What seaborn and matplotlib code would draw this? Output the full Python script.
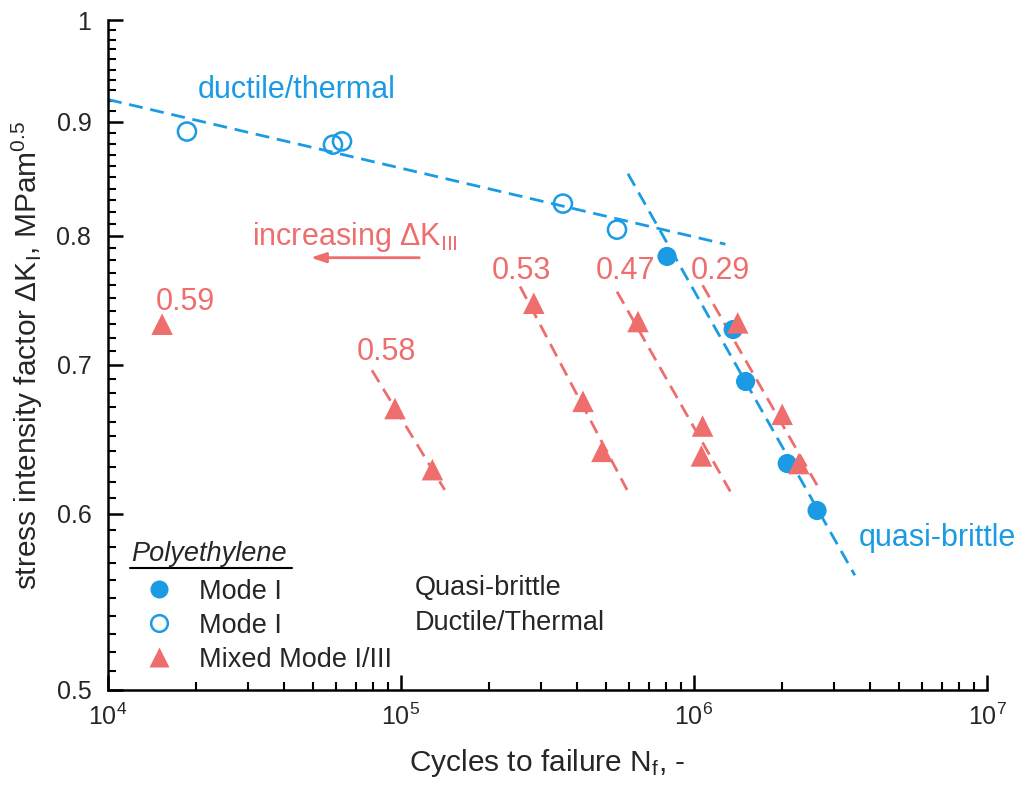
import numpy as np
import pandas as pd
import matplotlib
matplotlib.use("Agg")
import matplotlib.pyplot as plt
import seaborn as sns
from matplotlib.lines import Line2D
from matplotlib.ticker import LogLocator, FixedLocator, MultipleLocator, NullFormatter, FixedFormatter

# ---------------- data ----------------
ductile_N = [1.86e4, 5.86e4, 6.29e4, 3.57e5, 5.46e5]
ductile_K = [0.891, 0.879, 0.882, 0.827, 0.805]

brittle_N = [8.09e5, 1.36e6, 1.50e6, 2.08e6, 2.63e6]
brittle_K = [0.783, 0.726, 0.688, 0.632, 0.602]

mixed_ratio = ["0.59", "0.58", "0.58", "0.53", "0.53", "0.53", "0.47", "0.47", "0.47", "0.29", "0.29", "0.29"]
mixed_N = [1.53e4, 9.54e4, 1.28e5, 2.84e5, 4.18e5, 4.85e5, 6.44e5, 1.07e6, 1.06e6, 1.41e6, 2.00e6, 2.28e6]
mixed_K = [0.730, 0.669, 0.628, 0.746, 0.674, 0.640, 0.732, 0.657, 0.637, 0.731, 0.665, 0.632]

# trend lines (start, end)
fit_ductile_N = [1.0e4, 1.28e6]
fit_ductile_K = [0.921, 0.793]
fit_brittle_N = [5.95e5, 3.54e6]
fit_brittle_K = [0.853, 0.563]
fit_mixed = {
    "0.58": ([7.96e4, 1.41e5], [0.696, 0.615]),
    "0.53": ([2.55e5, 5.91e5], [0.759, 0.615]),
    "0.47": ([5.46e5, 1.33e6], [0.755, 0.614]),
    "0.29": ([1.07e6, 2.63e6], [0.760, 0.618]),
}

y_ticks = [0.5, 0.6, 0.7, 0.8, 0.9, 1.0]
y_ticklabels = ["0.5", "0.6", "0.7", "0.8", "0.9", "1"]

BLUE = "#1A9BE3"
RED = "#EE6E6E"

# ---------------- style ----------------
sns.set_style("ticks")
plt.rcParams["font.family"] = ["Liberation Sans", "DejaVu Sans"]
plt.rcParams["mathtext.fontset"] = "custom"
plt.rcParams["mathtext.rm"] = "Liberation Sans"
plt.rcParams["mathtext.it"] = "Liberation Sans:italic"
plt.rcParams["mathtext.default"] = "regular"

fig = plt.figure(figsize=(10.21, 7.85), dpi=100)
ax = fig.add_axes([108 / 1021, 1 - 690 / 785, (987 - 108) / 1021, (690 - 20) / 785])
ax.set_xscale("log")
ax.set_yscale("log")

dash = (5, 2.8)
# trend lines
sns.lineplot(x=fit_ductile_N, y=fit_ductile_K, ax=ax, color=BLUE, lw=2, linestyle=(0, dash))
sns.lineplot(x=fit_brittle_N, y=fit_brittle_K, ax=ax, color=BLUE, lw=2, linestyle=(0, dash))
for k, (xs, ys) in fit_mixed.items():
    sns.lineplot(x=xs, y=ys, ax=ax, color=RED, lw=2, linestyle=(0, dash))

# points
sns.scatterplot(x=brittle_N, y=brittle_K, ax=ax, color=BLUE, s=190, marker="o", edgecolor="none", zorder=3)
ax.scatter(ductile_N, ductile_K, s=170, facecolors="none", edgecolors=BLUE, linewidths=1.8, zorder=3)
sns.scatterplot(x=mixed_N, y=mixed_K, ax=ax, color=RED, s=240, marker="^", edgecolor="none", zorder=4)

ax.set_xlim(1e4, 1e7)
ax.set_ylim(0.5, 1.0)

# ticks
ax.xaxis.set_major_locator(LogLocator(base=10, numticks=10))
ax.xaxis.set_minor_locator(LogLocator(base=10, subs=np.arange(2, 10), numticks=20))
ax.xaxis.set_minor_formatter(NullFormatter())
ax.yaxis.set_major_locator(FixedLocator(y_ticks))
ax.yaxis.set_major_formatter(FixedFormatter(y_ticklabels))
ax.yaxis.set_minor_locator(MultipleLocator(0.01))
ax.yaxis.set_minor_formatter(NullFormatter())
ax.tick_params(which="major", direction="in", length=11, width=1.8, labelsize=18, color="black", pad=10)
ax.tick_params(which="minor", direction="in", length=6, width=1.5, color="black")
ax.tick_params(axis="y", pad=12)
for s in ["top", "right"]:
    ax.spines[s].set_visible(False)
for s in ["left", "bottom"]:
    ax.spines[s].set_linewidth(1.8)
    ax.spines[s].set_color("black")

ax.set_xlabel("Cycles to failure N$_\\mathrm{f}$, -", fontsize=21.5, labelpad=12)
ax.set_ylabel("stress intensity factor ΔK$_\\mathrm{I}$, MPam$^{0.5}$", fontsize=21.5, labelpad=8)

# annotations
fs = 22
ax.text(4.42e4, 0.930, "ductile/thermal", color=BLUE, fontsize=fs, ha="center", va="center")
ax.text(6.75e6, 0.585, "quasi-brittle", color=BLUE, fontsize=fs, ha="center", va="center")
ax.text(1.83e4, 0.747, "0.59", color=RED, fontsize=fs, ha="center", va="center")
ax.text(8.89e4, 0.709, "0.58", color=RED, fontsize=fs, ha="center", va="center")
ax.text(2.57e5, 0.771, "0.53", color=RED, fontsize=fs, ha="center", va="center")
ax.text(5.82e5, 0.771, "0.47", color=RED, fontsize=fs, ha="center", va="center")
ax.text(1.23e6, 0.771, "0.29", color=RED, fontsize=fs, ha="center", va="center")
ax.text(6.97e4, 0.799, "increasing ΔK$_\\mathrm{III}$", color=RED, fontsize=fs, ha="center", va="center")
ax.annotate("", xy=(4.81e4, 0.782), xytext=(1.18e5, 0.782),
            arrowprops=dict(arrowstyle="-|>,head_length=0.9,head_width=0.3", color=RED, lw=2))

# legend
handles = [
    Line2D([], [], marker="o", ls="none", color=BLUE, markersize=13, markeredgecolor="none"),
    Line2D([], [], marker="o", ls="none", markerfacecolor="none", markeredgecolor=BLUE, markeredgewidth=1.8, markersize=12),
    Line2D([], [], marker="^", ls="none", color=RED, markersize=15, markeredgecolor="none"),
]
labels = ["Mode I", "Mode I", "Mixed Mode I/III"]
lfs = 19.5
leg = ax.legend(handles, labels, loc="upper left", bbox_to_anchor=(125 / 1021, 1 - 565 / 785),
                bbox_transform=fig.transFigure, frameon=False, fontsize=lfs,
                handletextpad=0.72, labelspacing=0.3, borderpad=0, handlelength=1.5)
fig.text(131 / 1021, 1 - 554 / 785, "Polyethylene", fontsize=lfs, style="italic", va="center", ha="left")
fig.add_artist(Line2D([130 / 1021, 292 / 1021], [1 - 568 / 785, 1 - 568 / 785], color="black", lw=1.5))
fig.text(415 / 1021, 1 - 588 / 785, "Quasi-brittle", fontsize=lfs, va="center", ha="left")
fig.text(415 / 1021, 1 - 623 / 785, "Ductile/Thermal", fontsize=lfs, va="center", ha="left")

fig.savefig("out.png", dpi=100)
